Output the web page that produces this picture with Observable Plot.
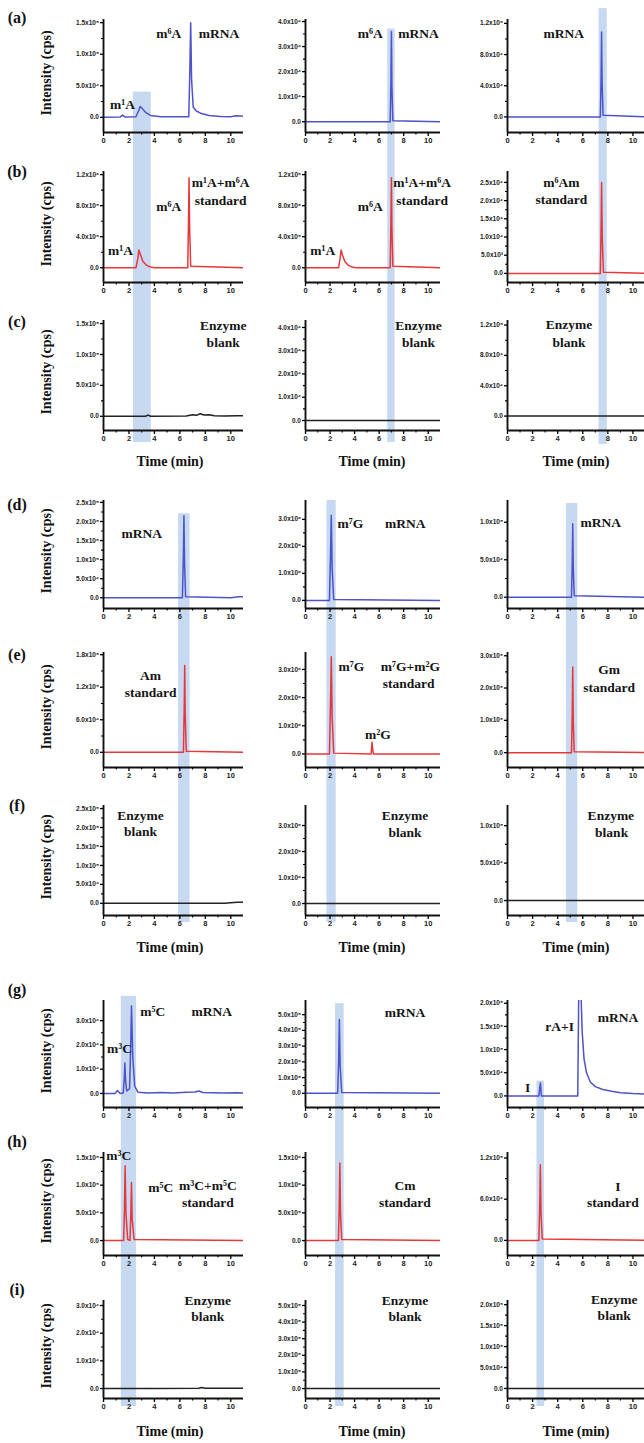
<!DOCTYPE html>
<html><head><meta charset="utf-8">
<script src="https://cdn.jsdelivr.net/npm/d3@7"></script>
<script src="https://cdn.jsdelivr.net/npm/@observablehq/plot@0.6"></script>
<style>
body{margin:0;background:#fff;}
#fig{position:relative;width:644px;height:1443px;overflow:hidden;background:#fff;font-family:"Liberation Serif","Times New Roman",serif;}
#fig svg{position:absolute;overflow:visible;}
.lab{position:absolute;font-weight:bold;color:#111;white-space:nowrap;line-height:1;}
</style></head><body><div id="fig"></div><script>
// ---------- data (time in min, intensity in units of the panel's tick step) ----------
const a1_t=[0,1.3,1.5,1.7,2.55,2.75,2.88,3.0,3.3,3.7,4.5,6.7,6.78,6.85,6.92,7.05,7.3,7.7,8.3,9.2,10.0,10.4,10.8,11];
const a1_v=[0,0.005,0.035,0.005,0.01,0.1,0.17,0.15,0.08,0.03,0.01,0.01,0.7,1.5,0.6,0.16,0.1,0.06,0.03,0.015,0.01,0.025,0.02,0.015];
const a2_t=[0,6.9,6.96,7.0,7.04,7.12,11], a2_v=[0,0,1.6,3.6,1.4,0.04,0];
const a3_t=[0,7.4,7.46,7.5,7.54,7.62,11], a3_v=[0,0,0.5,1.09,0.45,0.02,0];
const b1_t=[0,2.55,2.7,2.78,2.9,3.1,3.4,3.7,4.0,6.62,6.68,6.72,6.77,6.85,11];
const b1_v=[0,0,0.12,0.23,0.17,0.08,0.03,0.01,0,0,0.6,1.16,0.5,0.02,0];
const b2_t=[0,2.7,2.82,2.9,3.0,3.2,3.5,3.8,4.1,6.9,6.96,7.0,7.04,7.12,11];
const b2_v=[0,0,0.12,0.23,0.17,0.08,0.03,0.01,0,0,0.6,1.16,0.5,0.02,0];
const b3_t=[0,7.4,7.46,7.5,7.55,7.65,11], b3_v=[0,0,1.2,2.5,1.0,0.03,0];
const c1_t=[0,3.3,3.5,3.7,6.5,7.0,7.3,7.6,7.9,8.3,8.7,9.5,10.5,11];
const c1_v=[0,0,0.02,0,0.005,0.025,0.015,0.04,0.02,0.025,0.01,0.005,0.01,0.01];
const flat_t=[0,11], flat_v=[0,0];
const d1_t=[0,6.2,6.27,6.32,6.37,6.45,10.0,10.6,11], d1_v=[0,0,1.0,2.15,0.9,0.03,0,0.03,0.03];
const d2_t=[0,1.95,2.03,2.1,2.17,2.3,11], d2_v=[0,0,1.5,3.15,1.2,0.03,0];
const d3_t=[0,5.1,5.16,5.2,5.24,5.32,11], d3_v=[0,0,0.45,0.98,0.4,0.02,0];
const e1_t=[0,6.28,6.34,6.38,6.42,6.5,11], e1_v=[0,0,0.8,1.6,0.7,0.02,0];
const e2_t=[0,1.95,2.03,2.1,2.17,2.3,5.35,5.42,5.47,5.53,11], e2_v=[0,0,1.6,3.45,1.3,0.03,0,0.42,0.2,0,0];
const e3_t=[0,5.1,5.16,5.2,5.24,5.32,11], e3_v=[0,0,1.2,2.65,1.0,0.03,0];
const f1_t=[0,9.5,10.5,11], f1_v=[0,0,0.03,0.03];
const g1_t=[0,0.9,1.1,1.3,1.55,1.63,1.68,1.74,1.82,2.05,2.13,2.2,2.3,2.45,2.7,3.5,4.5,5.5,6.5,7.2,7.5,7.8,8.5,9.5,10.5,11];
const g1_v=[0,0,0.12,0,0.02,0.6,1.25,0.5,0.1,0.2,1.8,3.6,1.5,0.3,0.05,0.02,0.04,0.02,0.05,0.06,0.1,0.04,0.03,0.02,0.03,0.02];
const g2_t=[0,2.62,2.7,2.76,2.82,2.95,11], g2_v=[0,0,2.0,4.7,1.8,0.05,0];
const g3_t=[0,2.5,2.58,2.63,2.7,5.6,5.68,5.85,5.95,6.1,6.3,6.6,7.0,7.6,8.3,9.0,10.0,11];
const g3_v=[0,0,0.2,0.28,0,0,2.3,2.3,1.4,0.8,0.5,0.3,0.2,0.14,0.1,0.07,0.05,0.04];
const h1_t=[0,1.58,1.65,1.7,1.76,1.9,2.08,2.15,2.2,2.25,2.4,11], h1_v=[0,0,0.6,1.35,0.5,0.02,0,0.5,1.05,0.4,0.02,0];
const h2_t=[0,2.68,2.75,2.8,2.85,2.95,11], h2_v=[0,0,0.6,1.4,0.5,0.02,0];
const h3_t=[0,2.5,2.57,2.62,2.67,2.77,11], h3_v=[0,0,0.5,1.1,0.4,0.02,0];
const i1_t=[0,4,7.5,7.7,8,11], i1_v=[0,0,0.01,0.04,0.01,0.01];

// ---------- tick values and tick labels ----------
const xTicks=[0,2,4,6,8,10], xMinor=[1,3,5,7,9];
const tk4=[0,0.4,0.8,1.2], tk5=[0,0.5,1,1.5], tk25=[0,0.5,1,1.5,2,2.5], tk3=[0,1,2,3], tk4i=[0,1,2,3,4], tk5i=[0,1,2,3,4,5], tk2=[0,0.5,1,1.5,2], tk1=[0,0.5,1], tk18=[0,0.6,1.2,1.8], tk12=[0,0.6,1.2];
const lb_a1=["0.0","5.0x10⁴","1.0x10⁵","1.5x10⁵"];
const lb_a2=["0.0","1.0x10⁴","2.0x10⁴","3.0x10⁴","4.0x10⁴"];
const lb_a3=["0.0","4.0x10⁴","8.0x10⁴","1.2x10⁵"];
const lb_b1=["0.0","4.0x10⁵","8.0x10⁵","1.2x10⁶"];
const lb_b3=["0.0","5.0x10³","1.0x10⁴","1.5x10⁴","2.0x10⁴","2.5x10⁴"];
const lb_d1=["0.0","5.0x10⁴","1.0x10⁵","1.5x10⁵","2.0x10⁵","2.5x10⁵"];
const lb_d2=["0.0","1.0x10⁶","2.0x10⁶","3.0x10⁶"];
const lb_d3=["0.0","5.0x10⁴","1.0x10⁵"];
const lb_e1=["0.0","6.0x10⁴","1.2x10⁵","1.8x10⁵"];
const lb_e3=["0.0","1.0x10⁵","2.0x10⁵","3.0x10⁵"];
const lb_g1=["0.0","1.0x10⁴","2.0x10⁴","3.0x10⁴"];
const lb_g2=["0.0","1.0x10⁵","2.0x10⁵","3.0x10⁵","4.0x10⁵","5.0x10⁵"];
const lb_g3=["0.0","5.0x10⁴","1.0x10⁵","1.5x10⁵","2.0x10⁵"];
const lb_h1=["0.0","5.0x10⁴","1.0x10⁵","1.5x10⁵"];
const lb_h2=["0.0","5.0x10⁵","1.0x10⁶","1.5x10⁶"];
const lb_h3=["0.0","6.0x10⁴","1.2x10⁵"];

// ---------- annotations [time, intensity, text] ----------
const an_a1=[[5.13,1.33,"m⁶A"],[9.08,1.33,"mRNA"],[1.5,0.2,"m¹A"]];
const an_a2=[[5.28,3.52,"m⁶A"],[9.2,3.52,"mRNA"]];
const an_a3=[[4.48,1.07,"mRNA"]];
const an_b1=[[5.13,0.79,"m⁶A"],[9.2,1.09,"m¹A+m⁶A"],[9.2,0.87,"standard"],[1.34,0.22,"m¹A"]];
const an_b2=[[5.28,0.79,"m⁶A"],[9.5,1.09,"m¹A+m⁶A"],[9.5,0.87,"standard"],[1.4,0.22,"m¹A"]];
const an_b3=[[4.3,2.5,"m⁶Am"],[4.3,2.03,"standard"]];
const an_c1=[[9.4,1.47,"Enzyme"],[9.4,1.19,"blank"]];
const an_c2=[[9.2,4.09,"Enzyme"],[9.2,3.35,"blank"]];
const an_c3=[[4.9,1.2,"Enzyme"],[4.9,0.97,"blank"]];
const an_d1=[[3.0,1.68,"mRNA"]];
const an_d2=[[3.66,2.85,"m⁷G"],[8.13,2.85,"mRNA"]];
const an_d3=[[7.44,0.99,"mRNA"]];
const an_e1=[[3.7,1.42,"Am"],[3.7,1.1,"standard"]];
const an_e2=[[3.74,3.1,"m⁷G"],[8.54,3.1,"m⁷G+m²G"],[8.4,2.48,"standard"],[5.9,0.7,"m²G"]];
const an_e3=[[8.1,2.57,"Gm"],[8.1,2.0,"standard"]];
const an_f1=[[2.9,2.3,"Enzyme"],[2.9,1.9,"blank"]];
const an_f2=[[8.1,3.38,"Enzyme"],[8.1,2.73,"blank"]];
const an_f3=[[8.24,1.13,"Enzyme"],[8.3,0.91,"blank"]];
const an_g1=[[3.87,3.37,"m⁵C"],[8.5,3.37,"mRNA"],[1.26,1.85,"m³C"]];
const an_g2=[[8.1,5.1,"mRNA"]];
const an_g3=[[4.16,1.5,"rA+I"],[8.8,1.69,"mRNA"],[1.6,0.17,"I"]];
const an_h1=[[1.2,1.54,"m³C"],[4.5,0.96,"m⁵C"],[8.2,1.0,"m³C+m⁵C"],[8.2,0.69,"standard"]];
const an_h2=[[8.1,1.0,"Cm"],[8.1,0.69,"standard"]];
const an_h3=[[8.8,0.78,"I"],[8.4,0.55,"standard"]];
const an_i1=[[8.2,3.18,"Enzyme"],[8.2,2.6,"blank"]];
const an_i2=[[8.1,5.3,"Enzyme"],[8.1,4.34,"blank"]];
const an_i3=[[8.5,2.12,"Enzyme"],[8.5,1.73,"blank"]];

// ---------- highlight windows (time range, start intensity in first row) ----------
const bands=[
 {col:0,rows:[0,1,2],x1:2.35,x2:3.75,start:0.4,tail:12},
 {col:1,rows:[0,1,2],x1:6.7,x2:7.3,start:3.7,tail:12},
 {col:2,rows:[0,1,2],x1:7.3,x2:7.95,start:1.39,tail:14},
 {col:0,rows:[3,4,5],x1:5.9,x2:6.8,start:2.2,tail:7},
 {col:1,rows:[3,4,5],x1:1.75,x2:2.5,start:3.7,tail:7},
 {col:2,rows:[3,4,5],x1:4.7,x2:5.6,start:1.25,tail:7},
 {col:0,rows:[6,7,8],x1:1.4,x2:2.6,start:4.0,tail:8},
 {col:1,rows:[6,7,8],x1:2.45,x2:3.15,start:5.7,tail:8},
 {col:2,rows:[6,7,8],x1:2.35,x2:2.95,start:0.32,tail:8}
];

const BLUE="#4f52c8", RED="#e8373a", BLACK="#222";
const panels=[
 {row:0,col:0,t:a1_t,v:a1_v,c:BLUE,dom:[-0.24,1.55],yt:tk5,yl:lb_a1,an:an_a1},
 {row:0,col:1,t:a2_t,v:a2_v,c:BLUE,dom:[-0.43,4.08],yt:tk4i,yl:lb_a2,an:an_a2},
 {row:0,col:2,t:a3_t,v:a3_v,c:BLUE,dom:[-0.2,1.25],yt:tk4,yl:lb_a3,an:an_a3},
 {row:1,col:0,t:b1_t,v:b1_v,c:RED,dom:[-0.19,1.24],yt:tk4,yl:lb_b1,an:an_b1},
 {row:1,col:1,t:b2_t,v:b2_v,c:RED,dom:[-0.19,1.24],yt:tk4,yl:lb_b1,an:an_b2},
 {row:1,col:2,t:b3_t,v:b3_v,c:RED,dom:[-0.25,2.8],yt:tk25,yl:lb_b3,an:an_b3},
 {row:2,col:0,t:c1_t,v:c1_v,c:BLACK,dom:[-0.23,1.55],yt:tk5,yl:lb_a1,an:an_c1},
 {row:2,col:1,t:flat_t,v:flat_v,c:BLACK,dom:[-0.43,4.3],yt:tk4i,yl:lb_a2,an:an_c2},
 {row:2,col:2,t:flat_t,v:flat_v,c:BLACK,dom:[-0.19,1.26],yt:tk4,yl:lb_a3,an:an_c3},
 {row:3,col:0,t:d1_t,v:d1_v,c:BLUE,dom:[-0.28,2.55],yt:tk25,yl:lb_d1,an:an_d1},
 {row:3,col:1,t:d2_t,v:d2_v,c:BLUE,dom:[-0.3,3.7],yt:tk3,yl:lb_d2,an:an_d2},
 {row:3,col:2,t:d3_t,v:d3_v,c:BLUE,dom:[-0.15,1.29],yt:tk1,yl:lb_d3,an:an_d3},
 {row:4,col:0,t:e1_t,v:e1_v,c:RED,dom:[-0.28,1.84],yt:tk18,yl:lb_e1,an:an_e1},
 {row:4,col:1,t:e2_t,v:e2_v,c:RED,dom:[-0.48,3.6],yt:tk3,yl:lb_d2,an:an_e2},
 {row:4,col:2,t:e3_t,v:e3_v,c:RED,dom:[-0.46,3.1],yt:tk3,yl:lb_e3,an:an_e3},
 {row:5,col:0,t:f1_t,v:f1_v,c:BLACK,dom:[-0.32,2.58],yt:tk25,yl:lb_d1,an:an_f1},
 {row:5,col:1,t:flat_t,v:flat_v,c:BLACK,dom:[-0.46,3.77],yt:tk3,yl:lb_d2,an:an_f2},
 {row:5,col:2,t:flat_t,v:flat_v,c:BLACK,dom:[-0.2,1.27],yt:tk1,yl:lb_d3,an:an_f3},
 {row:6,col:0,t:g1_t,v:g1_v,c:BLUE,dom:[-0.58,3.83],yt:tk3,yl:lb_g1,an:an_g1},
 {row:6,col:1,t:g2_t,v:g2_v,c:BLUE,dom:[-0.9,5.9],yt:tk5i,yl:lb_g2,an:an_g2},
 {row:6,col:2,t:g3_t,v:g3_v,c:BLUE,dom:[-0.25,2.06],yt:tk2,yl:lb_g3,an:an_g3},
 {row:7,col:0,t:h1_t,v:h1_v,c:RED,dom:[-0.27,1.59],yt:tk5,yl:lb_h1,an:an_h1},
 {row:7,col:1,t:h2_t,v:h2_v,c:RED,dom:[-0.27,1.59],yt:tk5,yl:lb_h2,an:an_h2},
 {row:7,col:2,t:h3_t,v:h3_v,c:RED,dom:[-0.22,1.28],yt:tk12,yl:lb_h3,an:an_h3},
 {row:8,col:0,t:i1_t,v:i1_v,c:BLACK,dom:[-0.36,3.18],yt:tk3,yl:lb_g1,an:an_i1},
 {row:8,col:1,t:flat_t,v:flat_v,c:BLACK,dom:[-0.6,5.3],yt:tk5i,yl:lb_g2,an:an_i2},
 {row:8,col:2,t:flat_t,v:flat_v,c:BLACK,dom:[-0.24,2.1],yt:tk2,yl:lb_g3,an:an_i3}
];

// ---------- layout ----------
const rowTop=[19,171,320,500,652,805,1000,1152,1300];
const rowBot=[132,282,430,608,767,915,1107,1255,1398];
const colAxis=[103,305,507];
const colW=[140,135,138];
const fig=document.getElementById("fig");
const SANS='"Liberation Sans", Arial, sans-serif';
const SERIF='"Liberation Serif", "Times New Roman", serif';

function mkPanel(p){
  const ml=52, mr=8, mt=14, mb=22, r=p.row, c=p.col;
  const fh=rowBot[r]-rowTop[r];
  const data=p.t.map((t,i)=>({t,v:p.v[i]}));
  const lbl=new Map(p.yt.map((d,i)=>[d,p.yl[i]]));
  const minor=p.yt.slice(1).map((d,i)=>(d+p.yt[i])/2);
  const marks=[];
  for(const b of bands){
    if(b.col!==c||!b.rows.includes(r)) continue;
    const k=b.rows.indexOf(r), last=k===b.rows.length-1;
    const ext=last?b.tail:rowTop[r+1]-rowBot[r];
    const o={x1:"x1",x2:"x2",fill:"#8fb4e3",fillOpacity:0.5,insetBottom:-ext};
    const d={x1:b.x1,x2:b.x2};
    if(k===0){d.y1=p.dom[0];d.y2=b.start;o.y1="y1";o.y2="y2";}
    marks.push(Plot.rect([d],o));
  }
  marks.push(
    Plot.line(data,{x:"t",y:"v",stroke:p.c,strokeWidth:1.5,clip:true}),
    Plot.ruleY([p.dom[0]],{stroke:"#111",strokeWidth:1.9}),
    Plot.ruleX([0],{stroke:"#111",strokeWidth:1.9}),
    Plot.axisX({ticks:xTicks,tickSize:4,tickPadding:1.5,strokeWidth:1.3,label:null,fontSize:7.5,fontWeight:"bold",fontFamily:SANS,fill:"#222"}),
    Plot.axisX({ticks:xMinor,tickSize:2.5,strokeWidth:1.1,label:null,tickFormat:()=>""}),
    Plot.axisY({ticks:p.yt,tickSize:3,tickPadding:1.5,strokeWidth:1.3,label:null,tickFormat:d=>lbl.get(d),fontSize:6.5,fontWeight:"bold",fontFamily:SANS,fill:"#222"}),
    Plot.axisY({ticks:minor,tickSize:2,strokeWidth:1.1,label:null,tickFormat:()=>""}),
    Plot.text(p.an,{x:d=>d[0],y:d=>d[1],text:d=>d[2],fontSize:13.5,fontWeight:"bold",fontFamily:SERIF,fill:"#151515",textAnchor:"middle",lineAnchor:"middle"})
  );
  const svg=Plot.plot({
    width:ml+colW[c]+mr,height:mt+fh+mb,
    marginLeft:ml,marginRight:mr,marginTop:mt,marginBottom:mb,
    x:{domain:[0,11],axis:null},
    y:{domain:p.dom,axis:null},
    style:{background:"transparent",overflow:"visible"},
    marks
  });
  svg.style.left=(colAxis[c]-ml)+"px";
  svg.style.top=(rowTop[r]-mt)+"px";
  fig.appendChild(svg);
}
panels.forEach(mkPanel);

// ---------- HTML labels ----------
const tags=["(a)","(b)","(c)","(d)","(e)","(f)","(g)","(h)","(i)"];
const tagY=[18,172,322,505,655,806,990,1142,1290];
function addLab(txt,x,y,size,rot){
  const d=document.createElement("div");
  d.className="lab";d.textContent=txt;
  d.style.left=x+"px";d.style.top=y+"px";d.style.fontSize=size+"px";
  d.style.transform="translate(-50%,-50%)"+(rot?" rotate(-90deg)":"");
  fig.appendChild(d);
}
tags.forEach((t,i)=>{
  addLab(t,17,tagY[i],16,false);
  addLab("Intensity (cps)",47,(rowTop[i]+rowBot[i])/2-3,14,true);
});
const timeY=[462,948,1432], timeX=[170,372,576];
timeY.forEach(y=>timeX.forEach(x=>addLab("Time (min)",x,y,14,false)));
</script></body></html>
